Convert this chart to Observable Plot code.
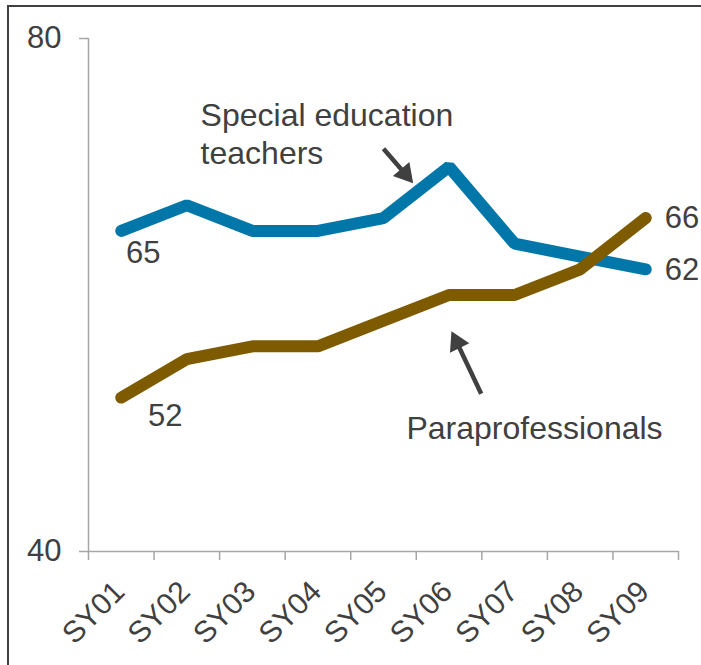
<!DOCTYPE html>
<html>
<head>
<meta charset="utf-8">
<script src="https://cdn.jsdelivr.net/npm/d3@7"></script>
<script src="https://cdn.jsdelivr.net/npm/@observablehq/plot@0.6"></script>
<style>
  html, body { margin: 0; padding: 0; background: #fff; }
  #wrap { position: relative; width: 701px; height: 665px; overflow: hidden; }
  #frame { position: absolute; left: 7px; top: 5px; width: 760px; height: 760px;
           border-left: 2px solid #404040; border-top: 2px solid #404040; }
  #chart { position: absolute; left: 0; top: 0; }
  svg { font-family: "Liberation Sans", Arial, sans-serif; }
</style>
</head>
<body>
<div id="wrap"><div id="frame"></div><div id="chart"></div></div>
<script>
const categories = ["SY01","SY02","SY03","SY04","SY05","SY06","SY07","SY08","SY09"];
const teachers = [65, 67, 65, 65, 66, 70, 64, 63, 62];
const paras = [52, 55, 56, 56, 58, 60, 60, 62, 66];
const yTicks = [40, 80];
const seriesNames = ["Special education\nteachers", "Paraprofessionals"];

const blue = "#0077a8";
const brown = "#7f5b00";
const axisGray = "#a6a6a6";
const textGray = "#404040";

const edges = categories.map((c, i) => i - 0.5).concat([categories.length - 0.5]);
const tData = categories.map((c, i) => ({i, v: teachers[i]}));
const pData = categories.map((c, i) => ({i, v: paras[i]}));
const last = categories.length - 1;

// annotation arrows (in data coordinates)
const arrows = [
  {x1: 4.0, y1: 71.4, x2: 4.33, y2: 69.45, rot: 140},
  {x1: 5.49, y1: 52.3, x2: 5.12, y2: 56.3, rot: -26}
];

const chart = Plot.plot({
  width: 701,
  height: 665,
  marginLeft: 88,
  marginRight: 23,
  marginTop: 38,
  marginBottom: 114,
  x: {type: "linear", domain: [-0.5, categories.length - 0.5], axis: null},
  y: {domain: [40, 80], axis: null},
  marks: [
    // axis lines
    Plot.ruleY([40], {stroke: axisGray, strokeWidth: 1.5}),
    Plot.ruleX([-0.5], {stroke: axisGray, strokeWidth: 1.5}),
    // x ticks at category boundaries
    Plot.ruleX(edges, {x: d => d, y1: 40, y2: 40, insetBottom: -9, stroke: axisGray, strokeWidth: 1.5}),
    // y ticks
    Plot.ruleY(yTicks, {y: d => d, x1: -0.5, x2: -0.5, insetLeft: -9, stroke: axisGray, strokeWidth: 1.5}),
    Plot.text(yTicks, {y: d => d, x: -0.5, text: d => String(d), textAnchor: "end", dx: -27,
      fontSize: 31, fill: textGray}),
    // x tick labels
    Plot.text(categories, {x: (d, i) => i, y: 40, text: d => d, rotate: -45, textAnchor: "end",
      lineAnchor: "bottom", dx: 5, dy: 42, fontSize: 30, fill: textGray}),
    // lines
    Plot.line(tData, {x: "i", y: "v", stroke: blue, strokeWidth: 12, strokeLinecap: "round", strokeLinejoin: "miter"}),
    Plot.line(pData, {x: "i", y: "v", stroke: brown, strokeWidth: 12, strokeLinecap: "round", strokeLinejoin: "miter"}),
    // value labels
    Plot.text([tData[0]], {x: "i", y: "v", text: d => String(d.v), dx: 22, dy: 22, fontSize: 31, fill: textGray}),
    Plot.text([pData[0]], {x: "i", y: "v", text: d => String(d.v), dx: 44, dy: 18, fontSize: 31, fill: textGray}),
    Plot.text([tData[last]], {x: "i", y: "v", text: d => String(d.v), textAnchor: "start", dx: 19, dy: 1, fontSize: 31, fill: textGray}),
    Plot.text([pData[last]], {x: "i", y: "v", text: d => String(d.v), textAnchor: "start", dx: 19, dy: 0, fontSize: 31, fill: textGray}),
    // annotations
    Plot.text([seriesNames[0]], {x: 1.21, y: 75.3, text: d => d, textAnchor: "start",
      lineAnchor: "top", lineHeight: 1.19, fontSize: 32, fill: textGray}),
    Plot.text([seriesNames[1]], {x: 4.35, y: 48.8, text: d => d, textAnchor: "start",
      lineAnchor: "bottom", fontSize: 32, fill: textGray}),
    Plot.link(arrows, {x1: "x1", y1: "y1", x2: "x2", y2: "y2", stroke: textGray, strokeWidth: 4.5}),
    Plot.dot(arrows, {x: "x2", y: "y2", symbol: "triangle", r: 8, rotate: "rot", fill: textGray, stroke: "none"})
  ]
});
document.getElementById("chart").appendChild(chart);
</script>
</body>
</html>
